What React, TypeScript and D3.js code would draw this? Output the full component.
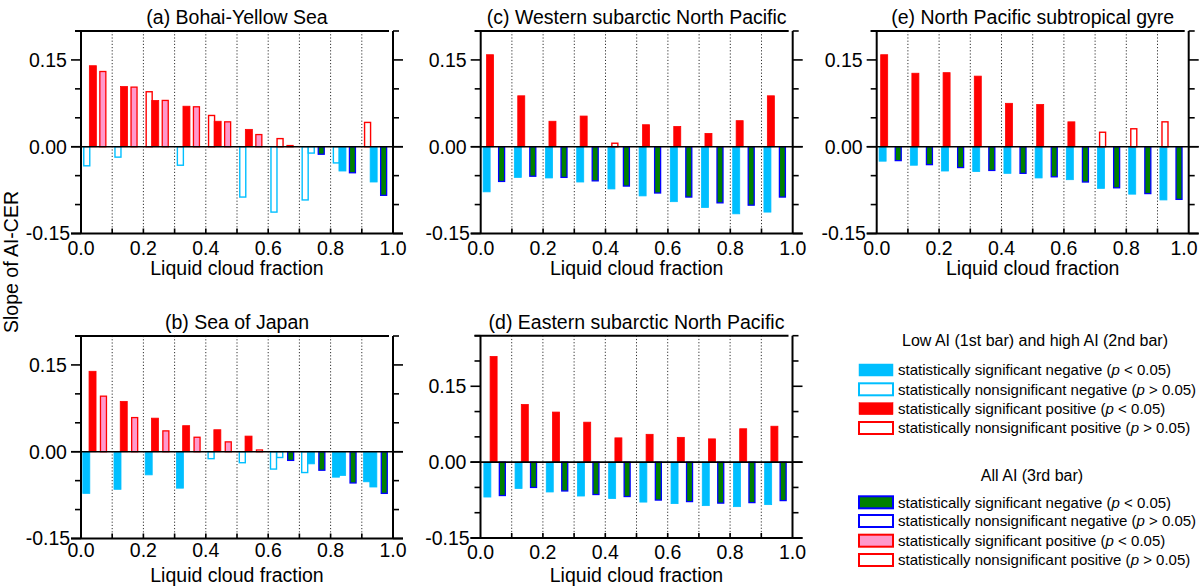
import React from 'react';
import * as d3 from 'd3';

// ---------- categories & ticks ----------
const binStarts = [0.0, 0.1, 0.2, 0.3, 0.4, 0.5, 0.6, 0.7, 0.8, 0.9];
const xTickValues = [0.0, 0.2, 0.4, 0.6, 0.8, 1.0];
const xTickLabels = ['0.0', '0.2', '0.4', '0.6', '0.8', '1.0'];
const yTickValues = [0.15, 0.0, -0.15];
const yTickLabels = ['0.15', '0.00', '-0.15'];

// ---------- (a) Bohai-Yellow Sea ----------
const lowA = [-0.033, -0.018, 0.095, -0.032, 0.054, -0.087, -0.113, -0.092, -0.028, 0.042];
const lowSigA = [0, 0, 0, 0, 0, 0, 0, 0, 0, 0];
const highA = [0.140, 0.104, 0.080, 0.070, 0.044, 0.030, 0.014, -0.011, -0.042, -0.061];
const highSigA = [1, 1, 1, 1, 1, 1, 0, 0, 1, 1];
const allA = [0.130, 0.103, 0.080, 0.069, 0.043, 0.021, 0.002, -0.013, -0.045, -0.084];
const allSigA = [1, 1, 1, 1, 1, 1, 0, 1, 1, 1];

// ---------- (b) Sea of Japan ----------
const lowB = [-0.072, -0.065, -0.040, -0.063, -0.012, -0.019, -0.030, -0.036, -0.044, -0.052];
const lowSigB = [1, 1, 1, 1, 0, 0, 0, 0, 1, 1];
const highB = [0.139, 0.087, 0.058, 0.045, 0.038, 0.027, -0.010, -0.021, -0.041, -0.061];
const highSigB = [1, 1, 1, 1, 1, 1, 0, 1, 1, 1];
const allB = [0.096, 0.059, 0.036, 0.025, 0.017, 0.003, -0.015, -0.032, -0.054, -0.072];
const allSigB = [1, 1, 1, 1, 1, 0, 1, 1, 1, 1];

// ---------- (c) Western subarctic North Pacific ----------
const lowC = [-0.078, -0.053, -0.054, -0.061, -0.073, -0.085, -0.095, -0.105, -0.116, -0.113];
const lowSigC = [1, 1, 1, 1, 1, 1, 1, 1, 1, 1];
const highC = [0.159, 0.088, 0.044, 0.053, 0.006, 0.038, 0.035, 0.023, 0.045, 0.088];
const highSigC = [1, 1, 1, 1, 0, 1, 1, 1, 1, 1];
const allC = [-0.060, -0.051, -0.053, -0.059, -0.068, -0.080, -0.087, -0.097, -0.101, -0.087];
const allSigC = [1, 1, 1, 1, 1, 1, 1, 1, 1, 1];

// ---------- (d) Eastern subarctic North Pacific ----------
const lowD = [-0.069, -0.052, -0.059, -0.067, -0.072, -0.079, -0.082, -0.086, -0.088, -0.084];
const lowSigD = [1, 1, 1, 1, 1, 1, 1, 1, 1, 1];
const highD = [0.209, 0.114, 0.099, 0.079, 0.048, 0.055, 0.049, 0.046, 0.066, 0.071];
const highSigD = [1, 1, 1, 1, 1, 1, 1, 1, 1, 1];
const allD = [-0.066, -0.050, -0.057, -0.064, -0.068, -0.075, -0.078, -0.081, -0.080, -0.076];
const allSigD = [1, 1, 1, 1, 1, 1, 1, 1, 1, 1];

// ---------- (e) North Pacific subtropical gyre ----------
const lowE = [-0.025, -0.032, -0.042, -0.043, -0.046, -0.054, -0.057, -0.072, -0.082, -0.092];
const lowSigE = [1, 1, 1, 1, 1, 1, 1, 1, 1, 1];
const highE = [0.159, 0.127, 0.128, 0.122, 0.075, 0.073, 0.043, 0.025, 0.031, 0.043];
const highSigE = [1, 1, 1, 1, 1, 1, 1, 0, 0, 0];
const allE = [-0.024, -0.031, -0.036, -0.041, -0.046, -0.052, -0.061, -0.071, -0.081, -0.091];
const allSigE = [1, 1, 1, 1, 1, 1, 1, 1, 1, 1];

// ---------- legend texts ----------
const legendHead1 = 'Low AI (1st bar) and high AI (2nd bar)';
const legendHead2 = 'All AI (3rd bar)';
const legendItems = [
  'statistically significant negative',
  'statistically nonsignificant negative',
  'statistically significant positive',
  'statistically nonsignificant positive',
];
const legendP = ['< 0.05', '> 0.05', '< 0.05', '> 0.05'];

// ---------- styling ----------
const CYAN = '#00BFFF';
const RED = '#FF0000';
const GREEN = '#008000';
const BLUE = '#0000FF';
const PINK = '#FF99CC';
const FONT = "'Liberation Sans', Arial, Helvetica, sans-serif";

type Layout = {
  left: number; right: number; top: number; bottom: number; yMax: number;
  offsets: number[]; tickDy: number; titleDy: number;
};

const panels = [
  { title: '(a) Bohai-Yellow Sea', low: lowA, lowSig: lowSigA, high: highA, highSig: highSigA, all: allA, allSig: allSigA,
    layout: { left: 81, right: 393, top: 31, bottom: 233.5, yMax: 0.2, offsets: [0.0185, 0.038, 0.070], tickDy: 15, titleDy: 35 } },
  { title: '(b) Sea of Japan', low: lowB, lowSig: lowSigB, high: highB, highSig: highSigB, all: allB, allSig: allSigB,
    layout: { left: 81, right: 393, top: 336, bottom: 538.5, yMax: 0.2, offsets: [0.017, 0.037, 0.072], tickDy: 12, titleDy: 37 } },
  { title: '(c) Western subarctic North Pacific', low: lowC, lowSig: lowSigC, high: highC, highSig: highSigC, all: allC, allSig: allSigC,
    layout: { left: 480.7, right: 792.7, top: 31, bottom: 233.5, yMax: 0.2, offsets: [0.019, 0.030, 0.067], tickDy: 15, titleDy: 35 } },
  { title: '(d) Eastern subarctic North Pacific', low: lowD, lowSig: lowSigD, high: highD, highSig: highSigD, all: allD, allSig: allSigD,
    layout: { left: 480.5, right: 792.5, top: 335.7, bottom: 538, yMax: 0.25, offsets: [0.022, 0.042, 0.070], tickDy: 14, titleDy: 37.5 } },
  { title: '(e) North Pacific subtropical gyre', low: lowE, lowSig: lowSigE, high: highE, highSig: highSigE, all: allE, allSig: allSigE,
    layout: { left: 876.7, right: 1188.7, top: 31, bottom: 233.5, yMax: 0.2, offsets: [0.019, 0.024, 0.069], tickDy: 15, titleDy: 35 } },
];

function styleFor(kind: 'pair' | 'all', v: number, sig: number) {
  if (kind === 'pair') {
    if (v < 0) return sig ? { fill: CYAN, stroke: CYAN, sw: 0.8, w: 7 } : { fill: '#fff', stroke: CYAN, sw: 1.4, w: 6 };
    return sig ? { fill: RED, stroke: RED, sw: 0.8, w: 7 } : { fill: '#fff', stroke: RED, sw: 1.4, w: 6 };
  }
  if (v < 0) return sig ? { fill: GREEN, stroke: BLUE, sw: 1.3, w: 6 } : { fill: '#fff', stroke: BLUE, sw: 1.3, w: 6 };
  return sig ? { fill: PINK, stroke: RED, sw: 1.3, w: 6 } : { fill: '#fff', stroke: RED, sw: 1.3, w: 6 };
}

function Panel({ p }: { p: typeof panels[number] }) {
  const L: Layout = p.layout;
  const x = d3.scaleLinear().domain([0, 1]).range([L.left, L.right]);
  const y = d3.scaleLinear().domain([-0.15, L.yMax]).range([L.bottom, L.top]);
  const y0 = y(0);
  const minorY = d3.range(-0.15, L.yMax + 1e-9, 0.05).map((v) => +v.toFixed(2));
  const series: { vals: number[]; sig: number[]; kind: 'pair' | 'all'; off: number }[] = [
    { vals: p.low, sig: p.lowSig, kind: 'pair', off: L.offsets[0] },
    { vals: p.high, sig: p.highSig, kind: 'pair', off: L.offsets[1] },
    { vals: p.all, sig: p.allSig, kind: 'all', off: L.offsets[2] },
  ];
  const cx = (L.left + L.right) / 2;
  return (
    <g>
      {binStarts.slice(1).map((b) => (
        <line key={'g' + b} x1={x(b)} x2={x(b)} y1={L.top} y2={L.bottom} stroke="#333" strokeWidth={1} strokeDasharray="1.2 2" />
      ))}
      {series.map((s, si) =>
        s.vals.map((v, i) => {
          const st = styleFor(s.kind, v, s.sig[i]);
          const xc = x(binStarts[i] + s.off);
          const yTop = y(Math.max(v, 0));
          const h = Math.abs(y(v) - y0);
          return (
            <rect key={si + '-' + i} x={xc - st.w / 2} y={yTop} width={st.w} height={Math.max(h, 0.5)}
              fill={st.fill} stroke={st.stroke} strokeWidth={st.sw} />
          );
        })
      )}
      <line x1={L.left - 10} x2={L.right + 10} y1={y0} y2={y0} stroke="#000" strokeWidth={1.6} />
      <line x1={L.left} x2={L.left} y1={L.top} y2={L.bottom} stroke="#000" strokeWidth={2} />
      <line x1={L.right} x2={L.right} y1={L.top} y2={L.bottom} stroke="#000" strokeWidth={2} />
      <line x1={L.left - 6} x2={L.right - 4} y1={L.top} y2={L.top} stroke="#000" strokeWidth={2} />
      <line x1={L.left - 10} x2={L.right + 10} y1={L.bottom} y2={L.bottom} stroke="#000" strokeWidth={2} />
      {minorY.map((v) => {
        const r = Math.abs(v / 0.15 - Math.round(v / 0.15));
        const major = r < 1e-6;
        const len = major ? 10 : 6;
        return (
          <g key={'yt' + v}>
            <line x1={L.left - len} x2={L.left} y1={y(v)} y2={y(v)} stroke="#000" strokeWidth={1.6} />
            <line x1={L.right} x2={L.right + len} y1={y(v)} y2={y(v)} stroke="#000" strokeWidth={1.6} />
          </g>
        );
      })}
      {binStarts.slice(1).map((b) => (
        <line key={'xt' + b} x1={x(b)} x2={x(b)} y1={L.bottom} y2={L.bottom - 5} stroke="#000" strokeWidth={1.6} />
      ))}
      {yTickValues.map((v, i) => (
        <text key={'yl' + i} x={L.left - 33} y={y(v)} dy="0.35em" textAnchor="middle" fontSize={19.5} fontFamily={FONT}>
          {yTickLabels[i]}
        </text>
      ))}
      {xTickValues.map((v, i) => (
        <text key={'xl' + i} x={Math.min(x(v), 1184)} y={L.bottom + L.tickDy} dy="0.35em" textAnchor="middle" fontSize={19.5} fontFamily={FONT}>
          {xTickLabels[i]}
        </text>
      ))}
      <text x={cx} y={L.bottom + L.titleDy} dy="0.35em" textAnchor="middle" fontSize={19.5} fontFamily={FONT}>
        Liquid cloud fraction
      </text>
      <text x={cx} y={L.top - 14} dy="0.35em" textAnchor="middle" fontSize={19.5} fontFamily={FONT}>
        {p.title}
      </text>
    </g>
  );
}

function Legend() {
  const sx = 859, sw = 34, sh = 12, tx = 898;
  const ys1 = [370, 389.3, 408.7, 428];
  const ys2 = [502.3, 521, 540.7, 560];
  const sw1 = [
    { fill: CYAN, stroke: CYAN, w: 0.5 },
    { fill: '#fff', stroke: CYAN, w: 2 },
    { fill: RED, stroke: RED, w: 0.5 },
    { fill: '#fff', stroke: RED, w: 2 },
  ];
  const sw2 = [
    { fill: GREEN, stroke: BLUE, w: 2 },
    { fill: '#fff', stroke: BLUE, w: 2 },
    { fill: PINK, stroke: RED, w: 2 },
    { fill: '#fff', stroke: RED, w: 2 },
  ];
  const item = (yy: number, s: { fill: string; stroke: string; w: number }, i: number, k: string) => (
    <g key={k}>
      <rect x={sx} y={yy - sh / 2} width={sw} height={sh} fill={s.fill} stroke={s.stroke} strokeWidth={s.w} />
      <text x={tx} y={yy} dy="0.35em" fontSize={15} fontFamily={FONT}>
        {legendItems[i]} (<tspan fontStyle="italic">p</tspan> {legendP[i]})
      </text>
    </g>
  );
  return (
    <g>
      <text x={1035} y={340} dy="0.35em" textAnchor="middle" fontSize={16} fontFamily={FONT}>{legendHead1}</text>
      {ys1.map((yy, i) => item(yy, sw1[i], i, 'l1' + i))}
      <text x={1032} y={475} dy="0.35em" textAnchor="middle" fontSize={16} fontFamily={FONT}>{legendHead2}</text>
      {ys2.map((yy, i) => item(yy, sw2[i], i, 'l2' + i))}
    </g>
  );
}

export default function App() {
  return (
    <svg width={1200} height={586} viewBox="0 0 1200 586" style={{ position: 'absolute', left: 0, top: 0, background: '#fff' }}>
      <rect x={0} y={0} width={1200} height={586} fill="#fff" />
      {panels.map((p) => <Panel key={p.title} p={p} />)}
      <text transform="translate(11,262) rotate(-90)" dy="0.35em" textAnchor="middle" fontSize={19.5} fontFamily={FONT}>
        Slope of AI-CER
      </text>
      <Legend />
    </svg>
  );
}
